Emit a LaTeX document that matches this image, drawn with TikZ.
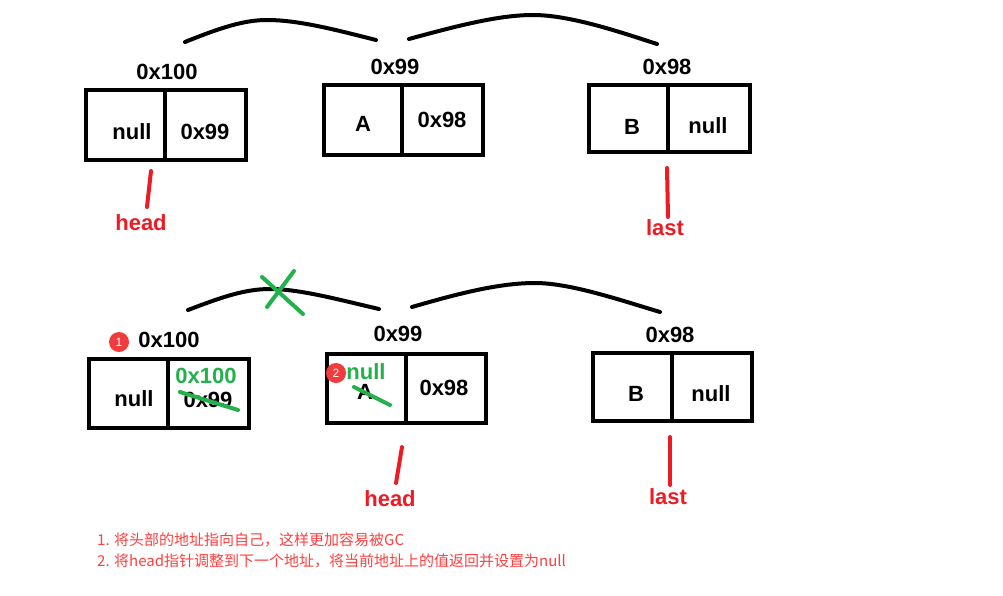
\documentclass[tikz,border=0pt]{standalone}
\usepackage{fontspec}
\setmainfont{Liberation Sans}
\newfontfamily\cjk{Noto Sans CJK SC}
\definecolor{pred}{HTML}{ED1C24}
\definecolor{pgreen}{HTML}{22B14C}
\definecolor{nred}{HTML}{FF4040}
\definecolor{cred}{HTML}{F03C3C}
\begin{document}
\begin{tikzpicture}[x=1pt,y=-1pt,
  cell/.style={draw,line width=4pt,rectangle,inner sep=0pt},
  lab/.style={inner sep=0pt,font=\bfseries\fontsize{22}{26}\selectfont},
  rlab/.style={lab,text=pred},
  glab/.style={lab,text=pgreen},
  ptr/.style={draw=pred,line width=4pt,line cap=round},
  arc/.style={draw,line width=4pt,line cap=round},
  strike/.style={draw=pgreen,line width=4pt,line cap=round},
  badge/.style={circle,fill=cred,inner sep=0pt,minimum size=20pt,text=white,font=\fontsize{12}{13}\selectfont},
  note/.style={anchor=west,inner sep=0pt,text=nred,font=\cjk\fontsize{15}{17}\selectfont}]
\useasboundingbox (0,0) rectangle (1003,595);
\fill[white] (0,0) rectangle (1003,595);
% ---------- top row ----------
\node[cell,minimum width=79pt,minimum height=70pt] (t1a) at (125.5,125) {};
\node[cell,minimum width=81pt,minimum height=70pt] (t1b) at (205.5,125) {};
\node[cell,minimum width=78pt,minimum height=70pt] (t2a) at (363,120) {};
\node[cell,minimum width=81pt,minimum height=70pt] (t2b) at (442.5,120) {};
\node[cell,minimum width=79pt,minimum height=67pt] (t3a) at (628.5,118.5) {};
\node[cell,minimum width=82pt,minimum height=67pt] (t3b) at (709,118.5) {};
\node[lab] (t1addr) at (167,72) {0x100};
\node[lab] (t1v) at (132,132) {null};
\node[lab] (t1n) at (205,132) {0x99};
\node[lab] (t2addr) at (395,67) {0x99};
\node[lab] (t2v) at (363,124) {A};
\node[lab] (t2n) at (442,120) {0x98};
\node[lab] (t3addr) at (667,67) {0x98};
\node[lab] (t3v) at (632,127) {B};
\node[lab] (t3n) at (708,126) {null};
\node[rlab] (thead) at (141,223) {head};
\node[rlab] (tlast) at (665,228) {last};
\coordinate (thp1) at (151,171); \coordinate (thp2) at (147,207);
\coordinate (tlp1) at (667,168); \coordinate (tlp2) at (668,217);
\draw[ptr] (thp1) -- (thp2);
\draw[ptr] (tlp1) -- (tlp2);
\coordinate (ta1s) at (185,42); \coordinate (ta1p) at (267,20); \coordinate (ta1e) at (376,40);
\coordinate (ta2s) at (409,39); \coordinate (ta2p) at (533,15); \coordinate (ta2e) at (657,44);
\draw[arc] (ta1s) .. controls (222,27) and (245,20) .. (ta1p) .. controls (300,20) and (340,31) .. (ta1e);
\draw[arc] (ta2s) .. controls (460,25) and (500,15) .. (ta2p) .. controls (570,15) and (620,32) .. (ta2e);
% ---------- bottom row ----------
\node[cell,minimum width=79pt,minimum height=69pt] (b1a) at (128.5,393.5) {};
\node[cell,minimum width=81pt,minimum height=69pt] (b1b) at (208.5,393.5) {};
\node[cell,minimum width=79pt,minimum height=69pt] (b2a) at (366.5,388.5) {};
\node[cell,minimum width=80pt,minimum height=69pt] (b2b) at (446,388.5) {};
\node[cell,minimum width=79pt,minimum height=68pt] (b3a) at (632.5,387) {};
\node[cell,minimum width=80pt,minimum height=68pt] (b3b) at (712,387) {};
\node[lab] (b1addr) at (169,340) {0x100};
\node[badge] (badge1) at (119,342) {1};
\node[lab] (b1v) at (134,399) {null};
\node[lab] (b1n) at (208,400) {0x99};
\node[glab] (b1new) at (206,376) {0x100};
\node[lab] (b2addr) at (398,334) {0x99};
\node[lab] (b2v) at (365,392) {A};
\node[glab] (b2new) at (366,372) {null};
\node[badge] (badge2) at (336,373) {2};
\node[lab] (b2n) at (444,388) {0x98};
\node[lab] (b3addr) at (670,335) {0x98};
\node[lab] (b3v) at (636,394) {B};
\node[lab] (b3n) at (711,394) {null};
\node[rlab] (bhead) at (390,499) {head};
\node[rlab] (blast) at (668,497) {last};
\coordinate (bhp1) at (402,447); \coordinate (bhp2) at (396,483);
\coordinate (blp1) at (670,437); \coordinate (blp2) at (670,485);
\draw[ptr] (bhp1) -- (bhp2);
\draw[ptr] (blp1) -- (blp2);
\coordinate (ba1s) at (188,310); \coordinate (ba1p) at (270,289); \coordinate (ba1e) at (379,309);
\coordinate (ba2s) at (412,307); \coordinate (ba2p) at (535,283); \coordinate (ba2e) at (660,312);
\draw[arc] (ba1s) .. controls (222,297) and (245,289) .. (ba1p) .. controls (300,289) and (340,300) .. (ba1e);
\draw[arc] (ba2s) .. controls (460,293) and (500,283) .. (ba2p) .. controls (570,283) and (620,300) .. (ba2e);
% green marks
\coordinate (x1a) at (262,277); \coordinate (x1b) at (303,314);
\coordinate (x2a) at (294,271); \coordinate (x2b) at (267,307);
\draw[strike] (x1a) -- (x1b);
\draw[strike] (x2a) -- (x2b);
\coordinate (s1a) at (180,392); \coordinate (s1b) at (238,410);
\coordinate (s2a) at (354,387); \coordinate (s2b) at (390,405);
\draw[strike] (s1a) -- (s1b);
\draw[strike] (s2a) -- (s2b);
% notes
\node[note] (note1) at (97,540) {1. 将头部的地址指向自己，这样更加容易被GC};
\node[note] (note2) at (97,561) {2. 将head指针调整到下一个地址，将当前地址上的值返回并设置为null};
\end{tikzpicture}
\end{document}
